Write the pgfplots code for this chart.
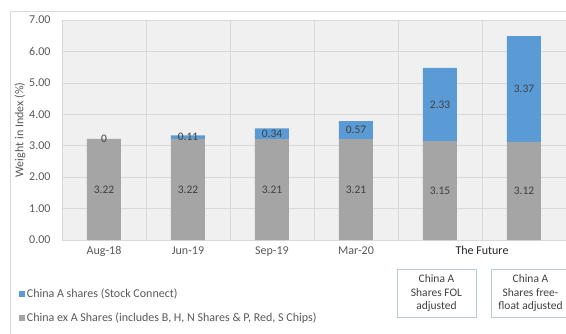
\documentclass[border=0pt]{standalone}
\usepackage{pgfplots}
\pgfplotsset{compat=1.18}
\usepackage{pgfplotstable}
\usepackage{fontspec}
\setmainfont{Carlito}
\definecolor{cblue}{HTML}{5B9BD5}
\definecolor{cgray}{HTML}{A5A5A5}
\definecolor{txt}{HTML}{595959}
\definecolor{lbl}{HTML}{404040}
\definecolor{gridc}{HTML}{D9D9D9}
\definecolor{bgc}{HTML}{F0F0F0}
\definecolor{boxc}{HTML}{B8CCD4}

\pgfplotstableread{
x gray blue glab blab
0 3.22 0    3.22 0
1 3.22 0.11 3.22 0.11
2 3.21 0.34 3.21 0.34
3 3.21 0.57 3.21 0.57
4 3.15 2.33 3.15 2.33
5 3.12 3.37 3.12 3.37
}\data

\pgfplotsset{
  common/.style={
    at={(62pt,93pt)}, anchor=south west, scale only axis,
    width=504pt, height=220pt,
    xmin=-0.5, xmax=5.5, ymin=0, ymax=7,
    clip=false,
  },
}
\tikzset{lab/.style={font=\fontsize{11.5}{13}\selectfont, text=lbl, anchor=center}}

\begin{document}
\begin{tikzpicture}
\path[use as bounding box] (0pt,0pt) rectangle (566pt,333pt);
\draw[gridc] (10pt,-2pt) -- (10pt,322pt) -- (568pt,322pt);
\begin{axis}[
  common,
  ybar stacked, bar width=34pt,
  axis line style={draw=none},
  major tick length=0pt, minor tick length=0pt,
  ytick={0,1,...,7},
  /pgf/number format/assume math mode=true,
  yticklabel style={/pgf/number format/.cd, fixed, fixed zerofill, precision=2, /tikz/.cd,
    font=\fontsize{12}{14}\selectfont, text=txt, xshift=-8pt},
  xtick={0,1,2,3}, xticklabels={Aug-18,Jun-19,Sep-19,Mar-20},
  xticklabel style={font=\fontsize{12}{14}\selectfont, text=txt, yshift=-2pt, text height=8.5pt, text depth=2.5pt},
  extra x ticks={4.5}, extra x tick labels={The Future},
  extra x tick style={grid=none, xticklabel style={text=black!85}},
  minor xtick={-0.5,0.5,1.5,2.5,3.5,4.5,5.5},
  xminorgrids=true, ymajorgrids=true, xmajorgrids=false,
  grid style={gridc, line width=0.6pt},
  minor grid style={gridc, line width=0.6pt},
  axis background/.style={fill=bgc},
  ylabel={Weight in Index (\%)},
  every axis y label/.style={at={(axis description cs:0,0.5)}, xshift=-42pt, rotate=90, anchor=center,
    font=\fontsize{12}{14}\selectfont, text=txt},
  legend style={at={(axis description cs:-0.086,-0.21)}, anchor=north west, draw=none, fill=none,
    font=\fontsize{12}{14}\selectfont, text=txt, row sep=10pt, inner xsep=0pt, inner ysep=0pt},
  legend cell align=left,
  legend image code/.code={\fill[#1] (0pt,-3pt) rectangle (6pt,3pt);},
  reverse legend,
]
\addplot[fill=cgray, draw=none] table[x=x, y=gray] {\data};
\addlegendentry{China ex A Shares (includes B, H, N Shares \& P, Red, S Chips)}
\addplot[fill=cblue, draw=none] table[x=x, y=blue] {\data};
\addlegendentry{China A shares (Stock Connect)}
\end{axis}
\begin{axis}[common, hide axis]
\addplot[only marks, mark=none, nodes near coords, point meta=explicit symbolic,
  every node near coord/.style={lab}]
  table[x=x, y expr=\thisrow{gray}/2, meta=glab] {\data};
\addplot[only marks, mark=none, nodes near coords, point meta=explicit symbolic,
  every node near coord/.style={lab}]
  table[x=x, y expr=\thisrow{gray}+\thisrow{blue}/2, meta=blab] {\data};
\end{axis}
\node[draw=boxc, line width=0.6pt, minimum width=79pt, minimum height=48pt, align=center,
  font=\fontsize{11.5}{13.5}\selectfont, text=lbl, inner sep=1pt] at (436.5pt,40pt) {China A\\Shares FOL\\adjusted};
\node[draw=boxc, line width=0.6pt, minimum width=79pt, minimum height=48pt, align=center,
  font=\fontsize{11.5}{13.5}\selectfont, text=lbl, inner sep=1pt] at (530.5pt,40pt) {China A\\Shares free-\\float adjusted};
\end{tikzpicture}
\end{document}
